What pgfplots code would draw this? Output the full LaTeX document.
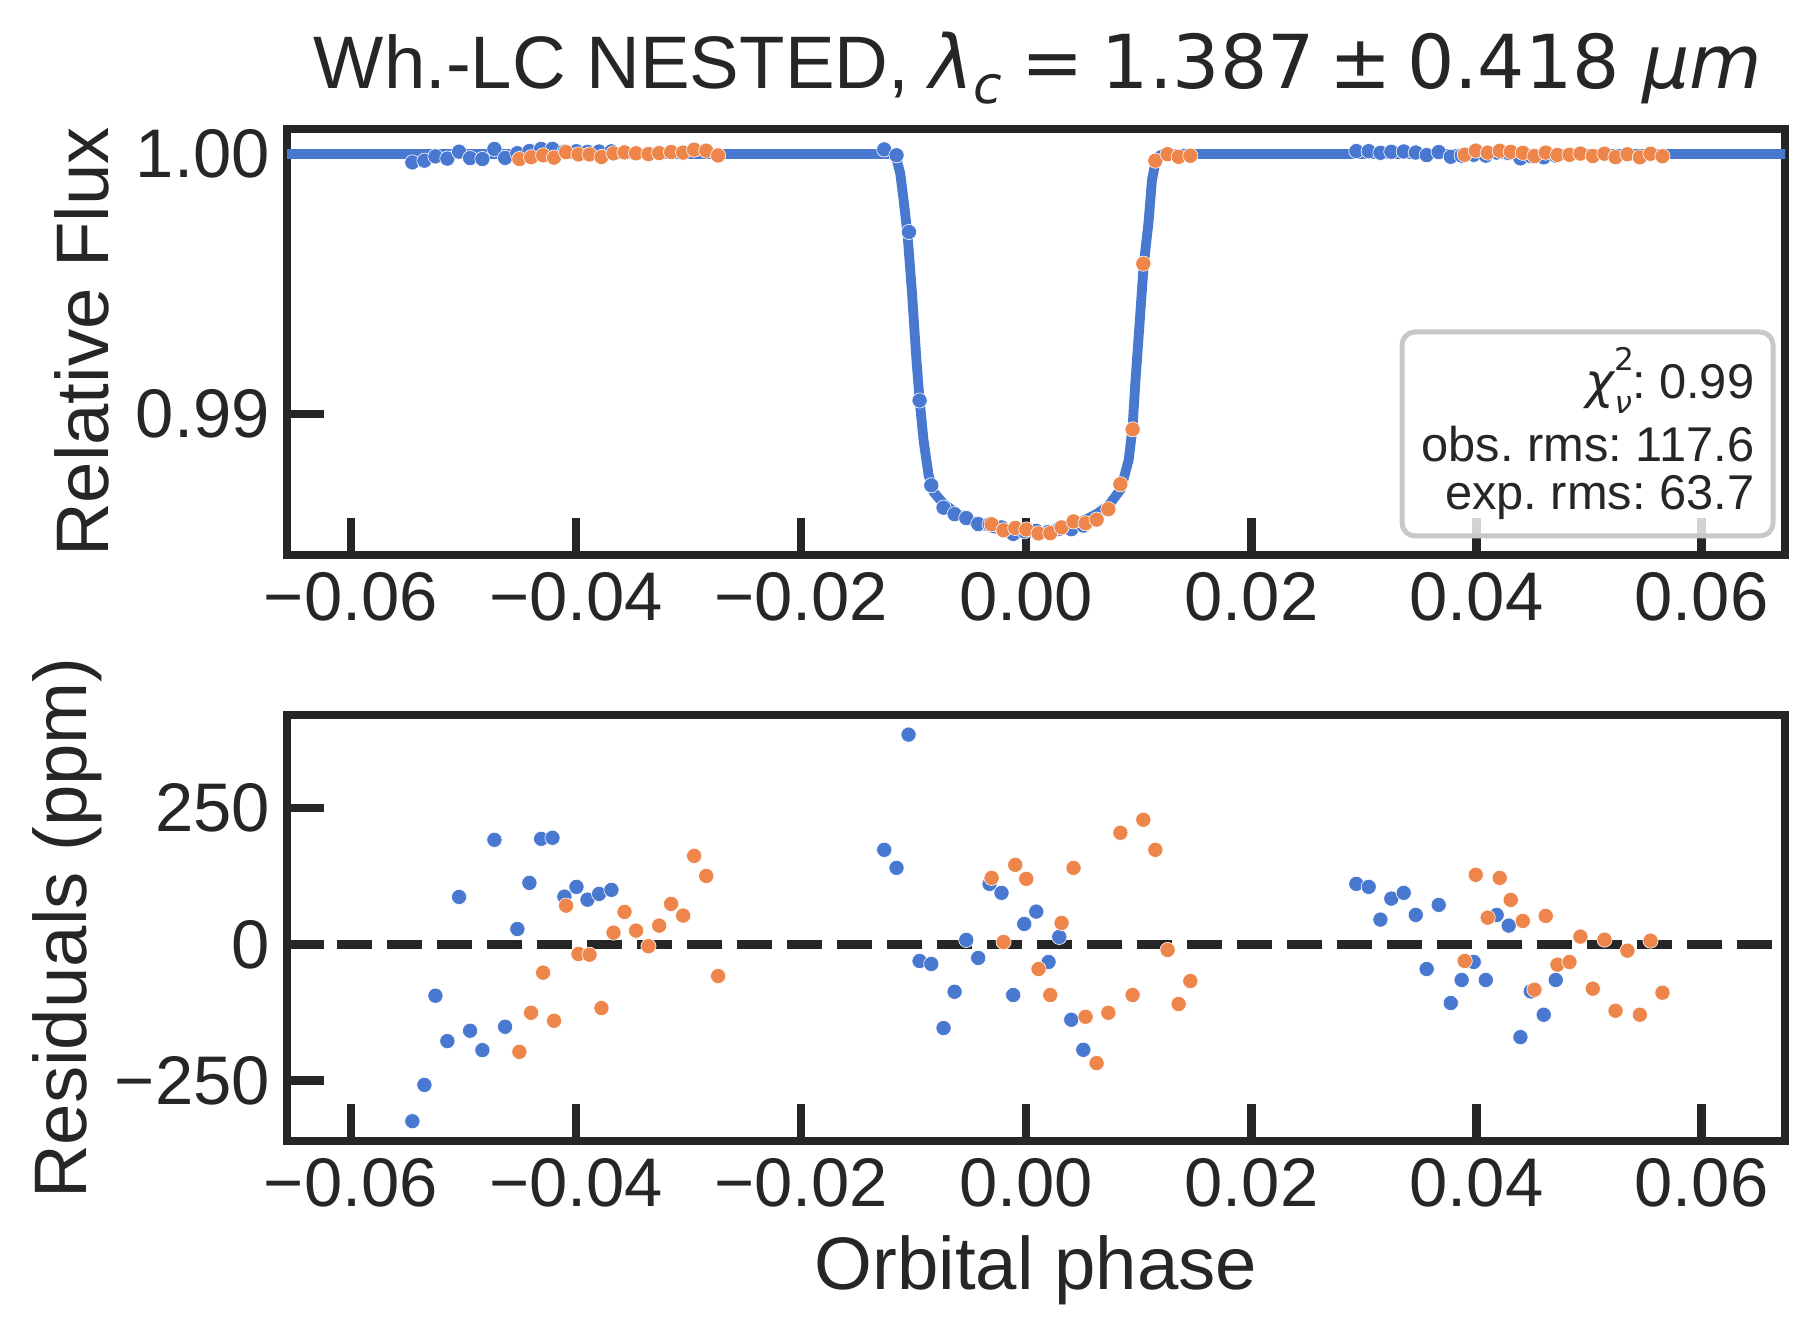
\documentclass[border=0pt]{standalone}
\usepackage{pgfplots}
\pgfplotsset{compat=1.18}
\usepackage{fontspec}
\setmainfont{Liberation Sans}
\newfontfamily\djv{DejaVu Sans}
\frenchspacing

\definecolor{ink}{HTML}{262626}
\definecolor{cblue}{HTML}{4878D0}
\definecolor{corange}{HTML}{EE854A}
\definecolor{legedge}{HTML}{C8C8C8}

\pgfplotsset{
  panel/.style={
    scale only axis, width=374.5pt, height=106.5pt,
    xmin=-0.06569, xmax=0.06742,
    axis line style={line width=2.1pt, ink},
    tick align=inside, xtick pos=left, ytick pos=left,
    major tick length=9.25pt,
    tick style={line width=2.1pt, ink},
    scaled x ticks=false, scaled y ticks=false,
    xtick={-0.06,-0.04,-0.02,0,0.02,0.04,0.06},
    xticklabels={−0.06,−0.04,−0.02,0.00,0.02,0.04,0.06},
    tick label style={font=\fontsize{17.2}{20}\selectfont, text=ink, inner sep=0pt},
    xticklabel style={yshift=-4.2pt},
    yticklabel style={xshift=-4.1pt},
  },
  dots/.style={only marks, mark=*, mark size=1.9pt,
    mark options={fill=#1, draw=white, line width=0.15pt}},
}

\begin{document}
\begin{tikzpicture}
\path[use as bounding box] (0,0) rectangle (454.25pt,334pt);

% ---------- light curve ----------
\begin{axis}[panel, at={(71.75pt,195.25pt)}, anchor=south west,
  ymin=0.98458, ymax=1.00096,
  ytick={0.99,1.00}, yticklabels={0.99,1.00}]
% transit model
\addplot[cblue, line width=2.45pt, line join=round] coordinates {
(-0.0680,1.0) (-0.0122,1.0) (-0.0118,0.99995) (-0.0115,0.99975) (-0.0112,0.99926)
(-0.0109,0.99823) (-0.01055,0.99690) (-0.01016,0.99470) (-0.00978,0.99220)
(-0.00948,0.99055) (-0.00913,0.98900) (-0.00868,0.98765) (-0.00824,0.98700)
(-0.00735,0.98655) (-0.0063,0.98622) (-0.0053,0.98598) (-0.0042,0.98578)
(-0.0030,0.98562) (-0.0018,0.98551) (-0.0006,0.98545) (0.0006,0.98544)
(0.0018,0.98549) (0.0030,0.98559) (0.0042,0.98574) (0.0053,0.98594)
(0.0063,0.98617) (0.00732,0.98648) (0.00841,0.98712) (0.00910,0.98823)
(0.00945,0.98950) (0.00969,0.99120) (0.01007,0.99349) (0.01043,0.99570)
(0.01087,0.99740) (0.01117,0.99900) (0.01147,0.99965) (0.0118,0.99993)
(0.0122,1.0) (0.0680,1.0)};
% visit 1
\addplot[dots=cblue] coordinates {
(-0.05455,0.999675) (-0.05348,0.999742) (-0.05250,0.999906) (-0.05144,0.999822)
(-0.05040,1.000087) (-0.04942,0.999841) (-0.04833,0.999806) (-0.04726,1.000192)
(-0.04631,0.999849) (-0.04522,1.000028) (-0.04415,1.000113) (-0.04311,1.000194)
(-0.04210,1.000196) (-0.04104,1.000088) (-0.03997,1.000106) (-0.03899,1.000082)
(-0.03796,1.000093) (-0.03686,1.000100)
(-0.01262,1.000174) (-0.01153,0.999950) (-0.01042,0.997000) (-0.00948,0.990520)
(-0.00844,0.987260) (-0.00735,0.986400) (-0.00637,0.986150) (-0.00533,0.986000)
(-0.00427,0.985770) (-0.00326,0.985760) (-0.00220,0.985640) (-0.00116,0.985390)
(-0.00018,0.985490) (0.00089,0.985510) (0.00198,0.985470) (0.00293,0.985590)
(0.00400,0.985570) (0.00507,0.985710)
(0.02933,1.000111) (0.03043,1.000106) (0.03147,1.000045) (0.03244,1.000084)
(0.03354,1.000095) (0.03461,1.000054) (0.03558,0.999955) (0.03665,1.000072)
(0.03772,0.999892) (0.03869,0.999935) (0.03976,0.999968) (0.04083,0.999935)
(0.04180,1.000054) (0.04287,1.000034) (0.04391,0.999830) (0.04483,0.999914)
(0.04598,0.999871) (0.04705,0.999935)};
% visit 2
\addplot[dots=corange] coordinates {
(-0.04504,0.999803) (-0.04400,0.999874) (-0.04293,0.999948) (-0.04196,0.999860)
(-0.04089,1.000071) (-0.03979,0.999982) (-0.03881,0.999981) (-0.03775,0.999883)
(-0.03668,1.000022) (-0.03570,1.000060) (-0.03467,1.000025) (-0.03357,0.999996)
(-0.03262,1.000034) (-0.03156,1.000074) (-0.03049,1.000053) (-0.02951,1.000162)
(-0.02844,1.000126) (-0.02738,0.999942)
(-0.00308,0.985760) (-0.00202,0.985530) (-0.00098,0.985620) (0.00000,0.985560)
(0.00109,0.985410) (0.00213,0.985420) (0.00314,0.985640) (0.00420,0.985870)
(0.00527,0.985800) (0.00625,0.985940) (0.00729,0.986340) (0.00836,0.987300)
(0.00945,0.989410) (0.01040,0.995780) (0.01147,0.999740) (0.01256,0.999990)
(0.01354,0.999890) (0.01458,0.999933)
(0.03896,0.999970) (0.03994,1.000128) (0.04100,1.000049) (0.04207,1.000122)
(0.04305,1.000082) (0.04412,1.000043) (0.04516,0.999917) (0.04616,1.000052)
(0.04720,0.999963) (0.04827,0.999968) (0.04924,1.000014) (0.05034,0.999919)
(0.05138,1.000009) (0.05236,0.999878) (0.05342,0.999988) (0.05452,0.999871)
(0.05547,1.000007) (0.05653,0.999911)};
\end{axis}

% ---------- residuals ----------
\begin{axis}[panel, at={(71.75pt,48.75pt)}, anchor=south west,
  ymin=-361, ymax=421,
  ytick={-250,0,250}, yticklabels={−250,0,250}]
\addplot[ink, line width=2.2pt, dash pattern=on 8.7pt off 3.8pt] coordinates {(-0.06569,0) (0.06742,0)};
\addplot[dots=cblue] coordinates {
(-0.05455,-324.7) (-0.05348,-258.0) (-0.05250,-94.3) (-0.05144,-177.6)
(-0.05040,87.0) (-0.04942,-158.6) (-0.04833,-194.2) (-0.04726,191.9)
(-0.04631,-151.3) (-0.04522,28.2) (-0.04415,112.8) (-0.04311,193.7)
(-0.04210,195.6) (-0.04104,87.6) (-0.03997,105.5) (-0.03899,82.0)
(-0.03796,92.6) (-0.03686,100.0)
(-0.01262,173.5) (-0.01153,140.4) (-0.01046,385.0) (-0.00948,-30.5)
(-0.00844,-36.0) (-0.00735,-153.7) (-0.00637,-87.0) (-0.00533,8.1)
(-0.00427,-25.0) (-0.00326,111.0) (-0.00220,94.5) (-0.00116,-93.0)
(-0.00018,37.5) (0.00089,60.1) (0.00198,-32.4) (0.00293,13.6)
(0.00400,-138.4) (0.00507,-193.6)
(0.02933,111.0) (0.03043,105.5) (0.03147,45.4) (0.03244,84.0)
(0.03354,94.5) (0.03461,54.0) (0.03558,-45.3) (0.03665,72.4)
(0.03772,-107.7) (0.03869,-65.4) (0.03976,-32.4) (0.04083,-65.4)
(0.04180,54.0) (0.04287,34.4) (0.04391,-170.3) (0.04483,-86.3)
(0.04598,-129.2) (0.04705,-65.4)};
\addplot[dots=corange] coordinates {
(-0.04504,-197.3) (-0.04400,-125.6) (-0.04293,-52.0) (-0.04196,-140.3)
(-0.04089,71.1) (-0.03979,-17.7) (-0.03881,-19.0) (-0.03775,-117.0)
(-0.03668,21.5) (-0.03570,59.5) (-0.03467,25.2) (-0.03357,-3.6)
(-0.03262,34.4) (-0.03156,74.2) (-0.03049,52.8) (-0.02951,162.4)
(-0.02844,125.6) (-0.02738,-58.2)
(-0.00308,122.0) (-0.00202,4.4) (-0.00098,146.0) (0.00000,120.2)
(0.00109,-45.3) (0.00213,-93.0) (0.00314,39.3) (0.00420,140.4)
(0.00527,-133.0) (0.00625,-218.0) (0.00729,-125.6) (0.00836,204.8)
(0.00945,-93.0) (0.01040,228.7) (0.01147,173.5) (0.01256,-10.3)
(0.01354,-109.6) (0.01458,-67.3)
(0.03896,-30.5) (0.03994,127.6) (0.04100,49.0) (0.04207,122.0)
(0.04305,81.6) (0.04412,43.0) (0.04516,-83.3) (0.04616,52.2)
(0.04720,-37.3) (0.04827,-32.4) (0.04924,14.2) (0.05034,-81.4)
(0.05138,8.6) (0.05236,-121.9) (0.05342,-11.6) (0.05452,-129.2)
(0.05547,6.8) (0.05653,-88.8)};
\end{axis}

% statistics box
\draw[legedge, line width=1.25pt, rounded corners=3.25pt, fill=white, fill opacity=0.8]
  (350.5pt,200pt) rectangle (443.25pt,251pt);
\begin{scope}[every node/.style={anchor=base east, inner sep=0pt, text=ink,
    font=\fontsize{12.2}{14}\selectfont}]
\node at (438.75pt,234.3pt) {{\djv\itshape χ}\rlap{\raisebox{0.58em}{\fontsize{7.8}{8}\selectfont\djv 2}}\raisebox{-0.3em}{\fontsize{7.8}{8}\selectfont\djv\itshape ν}: 0.99};
\node at (438.75pt,218.6pt) {obs. rms: 117.6};
\node at (438.75pt,206.5pt) {exp. rms: 63.7};
\end{scope}

% titles and axis labels
\node[anchor=base, inner sep=0pt, text=ink, font=\fontsize{18.6}{22}\selectfont]
  at (259.5pt,311.75pt) {Wh.-LC NESTED, {\djv\itshape λ}\raisebox{-0.2em}{\fontsize{13}{14}\selectfont\djv\itshape c}\hspace{0.25em}{\djv =}\hspace{0.25em}{\djv 1.387}\hspace{0.2em}{\djv ±}\hspace{0.2em}{\djv 0.418}\hspace{0.3em}{\djv\itshape μm}};
\node[anchor=base, rotate=90, inner sep=0pt, text=ink, font=\fontsize{18.6}{22}\selectfont]
  at (27pt,248.5pt) {Relative Flux};
\node[anchor=base, rotate=90, inner sep=0pt, text=ink, font=\fontsize{18.6}{22}\selectfont]
  at (21.5pt,102pt) {Residuals (ppm)};
\node[anchor=base, inner sep=0pt, text=ink, font=\fontsize{18.6}{22}\selectfont]
  at (259pt,11.5pt) {Orbital phase};
\end{tikzpicture}
\end{document}
